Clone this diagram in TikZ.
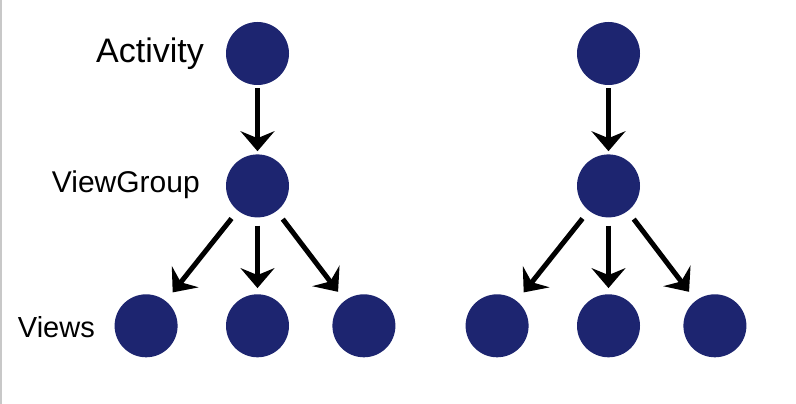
\documentclass[tikz,border=0pt]{standalone}
\usepackage{fontspec}
\setmainfont{Liberation Sans}
\usepackage{xcolor}
\definecolor{dot-blue}{HTML}{1D2570}
\definecolor{edge-gray}{HTML}{C8C8C8}
\usetikzlibrary{positioning}
\usetikzlibrary{arrows.meta}
\tikzset{dot/.style = {circle, fill=dot-blue, minimum size=63pt, inner sep=0pt}}
\tikzset{lbl/.style = {anchor=base east, inner sep=0pt}}
\tikzset{arr/.style = {line width=5pt, -{Stealth[length=20pt, width=34pt, inset=7pt]}}}

\begin{document}
\begin{tikzpicture}[x=1pt, y=-1pt,
  node distance = 69pt
]
\useasboundingbox (0,0) rectangle (796,404);
\draw[edge-gray, line width=1.5pt] (1,0) -- (1,404);

% left tree, with labels
\node[dot] (a0) at (257.5,53.5) {};
\node[dot, below=of a0] (g0) {};
\node[dot, below=76.5pt of g0] (v01) {};
\node[dot, left=48pt of v01] (v00) {};
\node[dot, right=43pt of v01] (v02) {};

\node[lbl, font=\fontsize{34pt}{40pt}\selectfont] (tact) at (204,63) {Activity};
\node[lbl, font=\fontsize{30pt}{36pt}\selectfont] (tgrp) at (200,192) {ViewGroup};
\node[lbl, font=\fontsize{29pt}{35pt}\selectfont] (tviews) at (95,337) {Views};

% right tree
\node[dot] (a1) at (608.5,53.5) {};
\node[dot, below=of a1] (g1) {};
\node[dot, below=76.5pt of g1] (v11) {};
\node[dot, left=48pt of v11] (v10) {};
\node[dot, right=43pt of v11] (v12) {};

\draw[arr, shorten <=3pt, shorten >=3pt]  (a0) -- (g0);
\draw[arr, shorten <=10pt, shorten >=11pt]  (g0) -- (v00);
\draw[arr, shorten <=8pt, shorten >=6pt]  (g0) -- (v01);
\draw[arr, shorten <=10pt, shorten >=11pt]  (g0) -- (v02);

\draw[arr, shorten <=3pt, shorten >=3pt]  (a1) -- (g1);
\draw[arr, shorten <=10pt, shorten >=11pt]  (g1) -- (v10);
\draw[arr, shorten <=8pt, shorten >=6pt]  (g1) -- (v11);
\draw[arr, shorten <=10pt, shorten >=11pt]  (g1) -- (v12);

\end{tikzpicture}
\end{document}
